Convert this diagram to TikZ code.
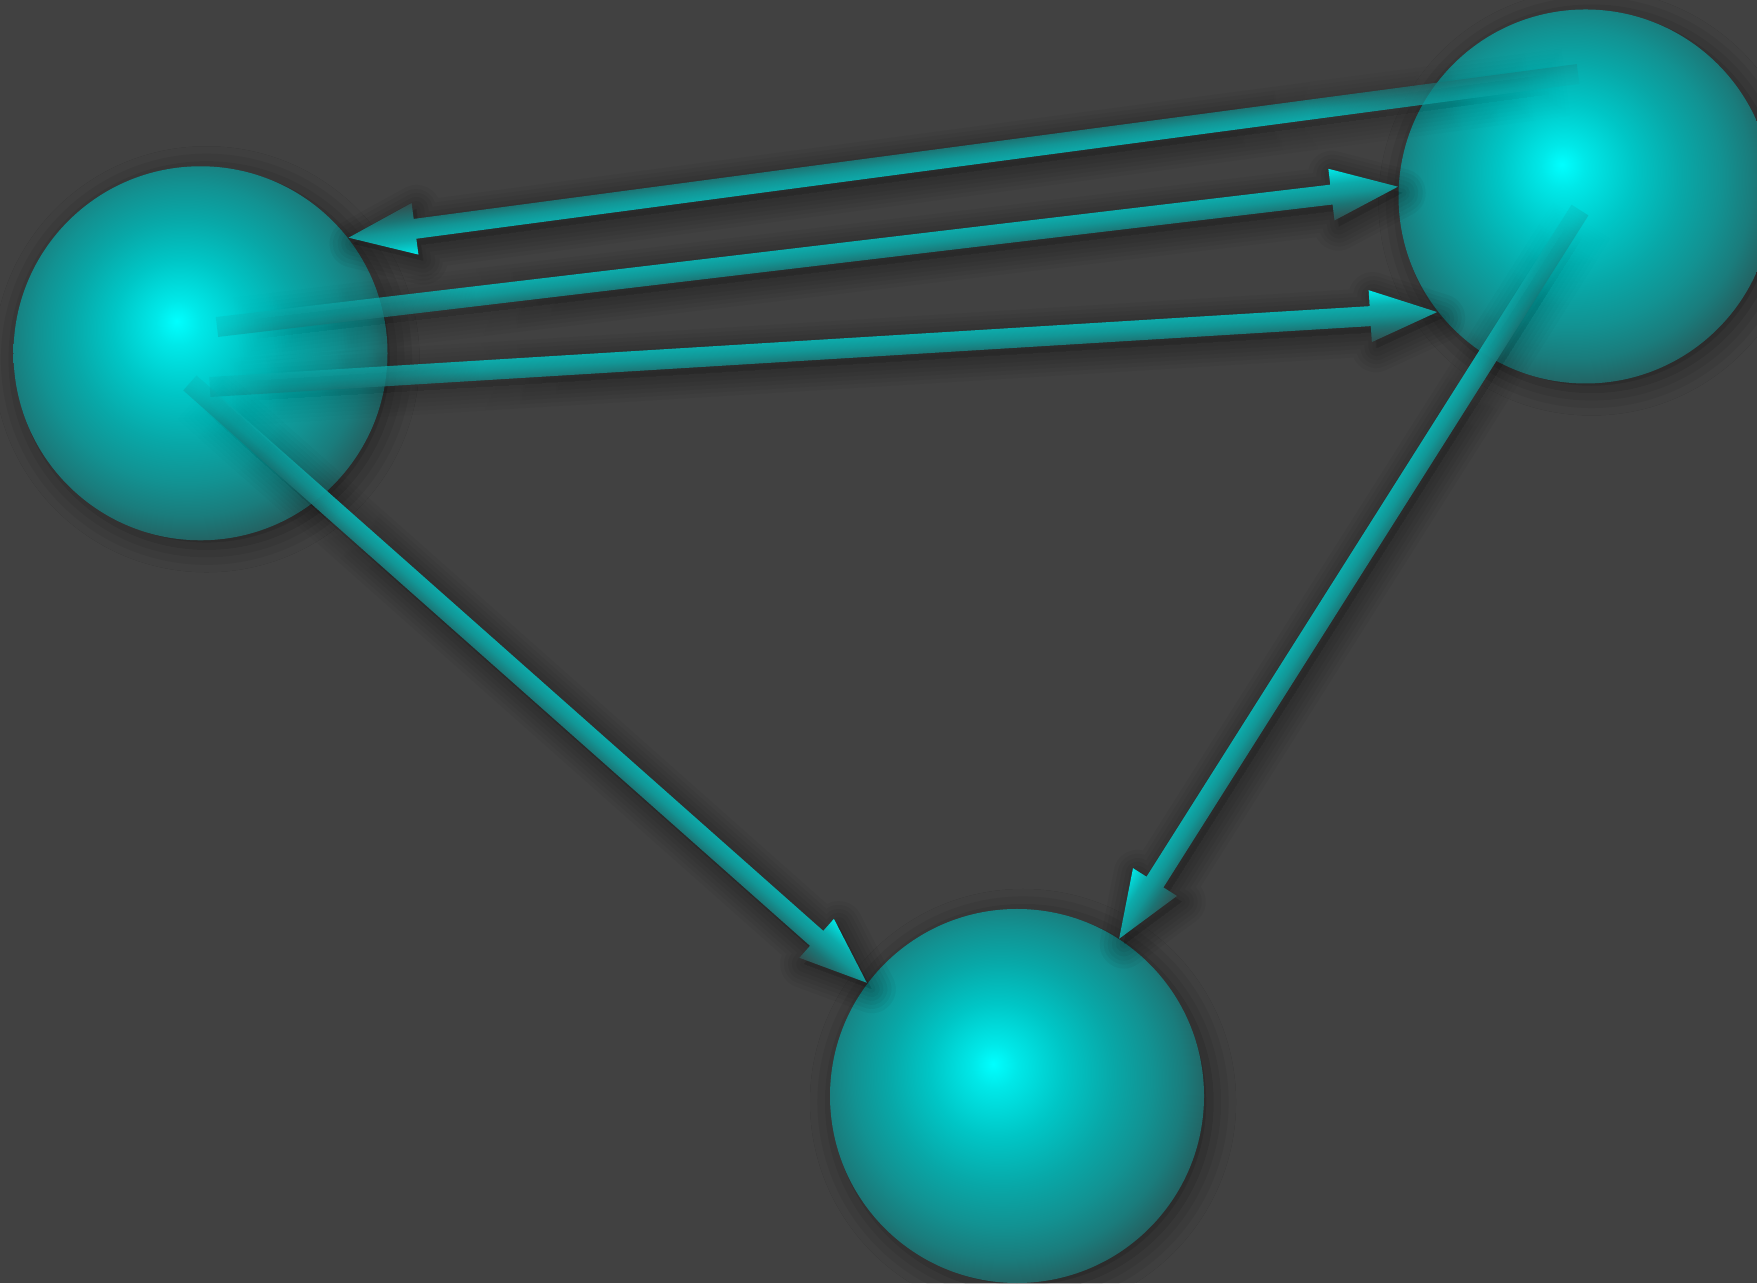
\documentclass[tikz,border=0pt]{standalone}
\usepackage{tikz}
\usetikzlibrary{calc,fadings,shadows.blur}

\definecolor{bggray}{RGB}{65,65,65}
\definecolor{ballhl}{RGB}{0,255,255}
\definecolor{ballc1}{RGB}{0,232,232}
\definecolor{ballc2}{RGB}{0,198,198}
\definecolor{ballc3}{RGB}{8,168,168}
\definecolor{ballc4}{RGB}{18,146,146}
\definecolor{ballc5}{RGB}{26,124,124}
\definecolor{ballc6}{RGB}{36,96,96}
\definecolor{ballc7}{RGB}{44,72,72}
\definecolor{arrbright}{RGB}{0,232,232}
\definecolor{arrhigh}{RGB}{12,172,172}
\definecolor{arrmid}{RGB}{18,150,150}
\definecolor{arrlow}{RGB}{28,116,116}
\definecolor{arrdark}{RGB}{50,78,78}

\pgfdeclareradialshading{tealball}{\pgfpoint{-3.2bp}{4.3bp}}{%
  color(0bp)=(ballhl); color(3bp)=(ballc1); color(9bp)=(ballc2);
  color(15bp)=(ballc3); color(20bp)=(ballc4); color(24bp)=(ballc5);
  color(27.5bp)=(ballc6); color(31bp)=(ballc7); color(50bp)=(ballc7)}
\pgfdeclareverticalshading{arrowlit}{100bp}{%
  color(0bp)=(arrdark); color(25bp)=(arrdark); color(40bp)=(arrlow);
  color(50bp)=(arrmid); color(60bp)=(arrhigh); color(75bp)=(arrbright);
  color(100bp)=(arrbright)}
\pgfdeclarehorizontalshading{arrfadeshade}{100bp}{%
  color(0bp)=(black!78); color(25bp)=(black!78); color(36bp)=(white); color(100bp)=(white)}
\pgfdeclarefading{arrfade}{\pgfuseshading{arrfadeshade}}
\pgfdeclarehorizontalshading{shadowfadeshade}{100bp}{%
  color(0bp)=(black); color(26bp)=(black); color(40bp)=(white); color(100bp)=(white)}
\pgfdeclarefading{shadowfade}{\pgfuseshading{shadowfadeshade}}

% arrow outline, drawn along the x axis
\newcommand{\arrowpath}{(0,-1) -- (\garlen-6.7,-1) -- (\garlen-6.7,-2.6) -- (\garlen,0)
  -- (\garlen-6.7,2.6) -- (\garlen-6.7,1) -- (0,1) -- cycle}
\newcommand{\glowarrow}[3][0]{%
  \path (#2); \pgfgetlastxy{\gax}{\gay}
  \path (#3); \pgfgetlastxy{\gbx}{\gby}
  \pgfmathsetmacro{\garang}{atan2(\gby-\gay,\gbx-\gax)}
  \pgfmathsetmacro{\garlen}{veclen((\gbx-\gax)/100,(\gby-\gay)/100)*100/2.845276}
  \pgfmathsetmacro{\gsx}{0.45*cos(\garang)-0.6*sin(\garang)}
  \pgfmathsetmacro{\gsy}{-0.45*sin(\garang)-0.6*cos(\garang)}
  \begin{scope}[transform canvas={shift={(\gax,\gay)}, rotate=\garang}]
    \foreach \w in {0.8,1.6,...,5.6}
      \draw[arrshadow, line width=\w mm, shift={(\gsx,\gsy)}] \arrowpath;
    \shade[arrbody, shading angle=#1] \arrowpath;
  \end{scope}}

\begin{document}
\begin{tikzpicture}[x=1mm, y=1mm,
    tealsphere/.style={circle, minimum size=37.4mm, inner sep=0pt, shade, shading=tealball,
      blur shadow={shadow xshift=0.6mm, shadow yshift=-0.6mm, shadow blur radius=2.6mm, shadow opacity=45}},
    arrshadow/.style={draw=black, draw opacity=0.038, fill=black, fill opacity=0.02,
      line join=round, path fading=shadowfade},
    arrbody/.style={shading=arrowlit, path fading=arrfade}]
  \useasboundingbox (0,0) rectangle (175.7,128.3);
  \fill[bggray] (0,0) rectangle (175.7,128.3);

  \node[tealsphere] (ballW) at (20.05,92.97) {};
  \node[tealsphere] (ballE) at (158.55,108.65) {};
  \node[tealsphere] (ballS) at (101.7,18.7) {};

  \coordinate (s1) at ($(ballE)+(-0.75,12.25)$);
  \coordinate (s2) at ($(ballW)+(1.65,2.63)$);
  \coordinate (s3) at ($(ballW)+(0.95,-3.37)$);
  \coordinate (s4) at ($(ballW)+(-1.05,-2.97)$);
  \coordinate (s5) at ($(ballE)+(-0.55,-1.35)$);

  \glowarrow{s1}{ballW.38}
  \glowarrow{s2}{ballE.177}
  \glowarrow{s3}{ballE.218}
  \glowarrow{s4}{ballS.143}
  \glowarrow[180]{s5}{ballS.57}
\end{tikzpicture}
\end{document}
